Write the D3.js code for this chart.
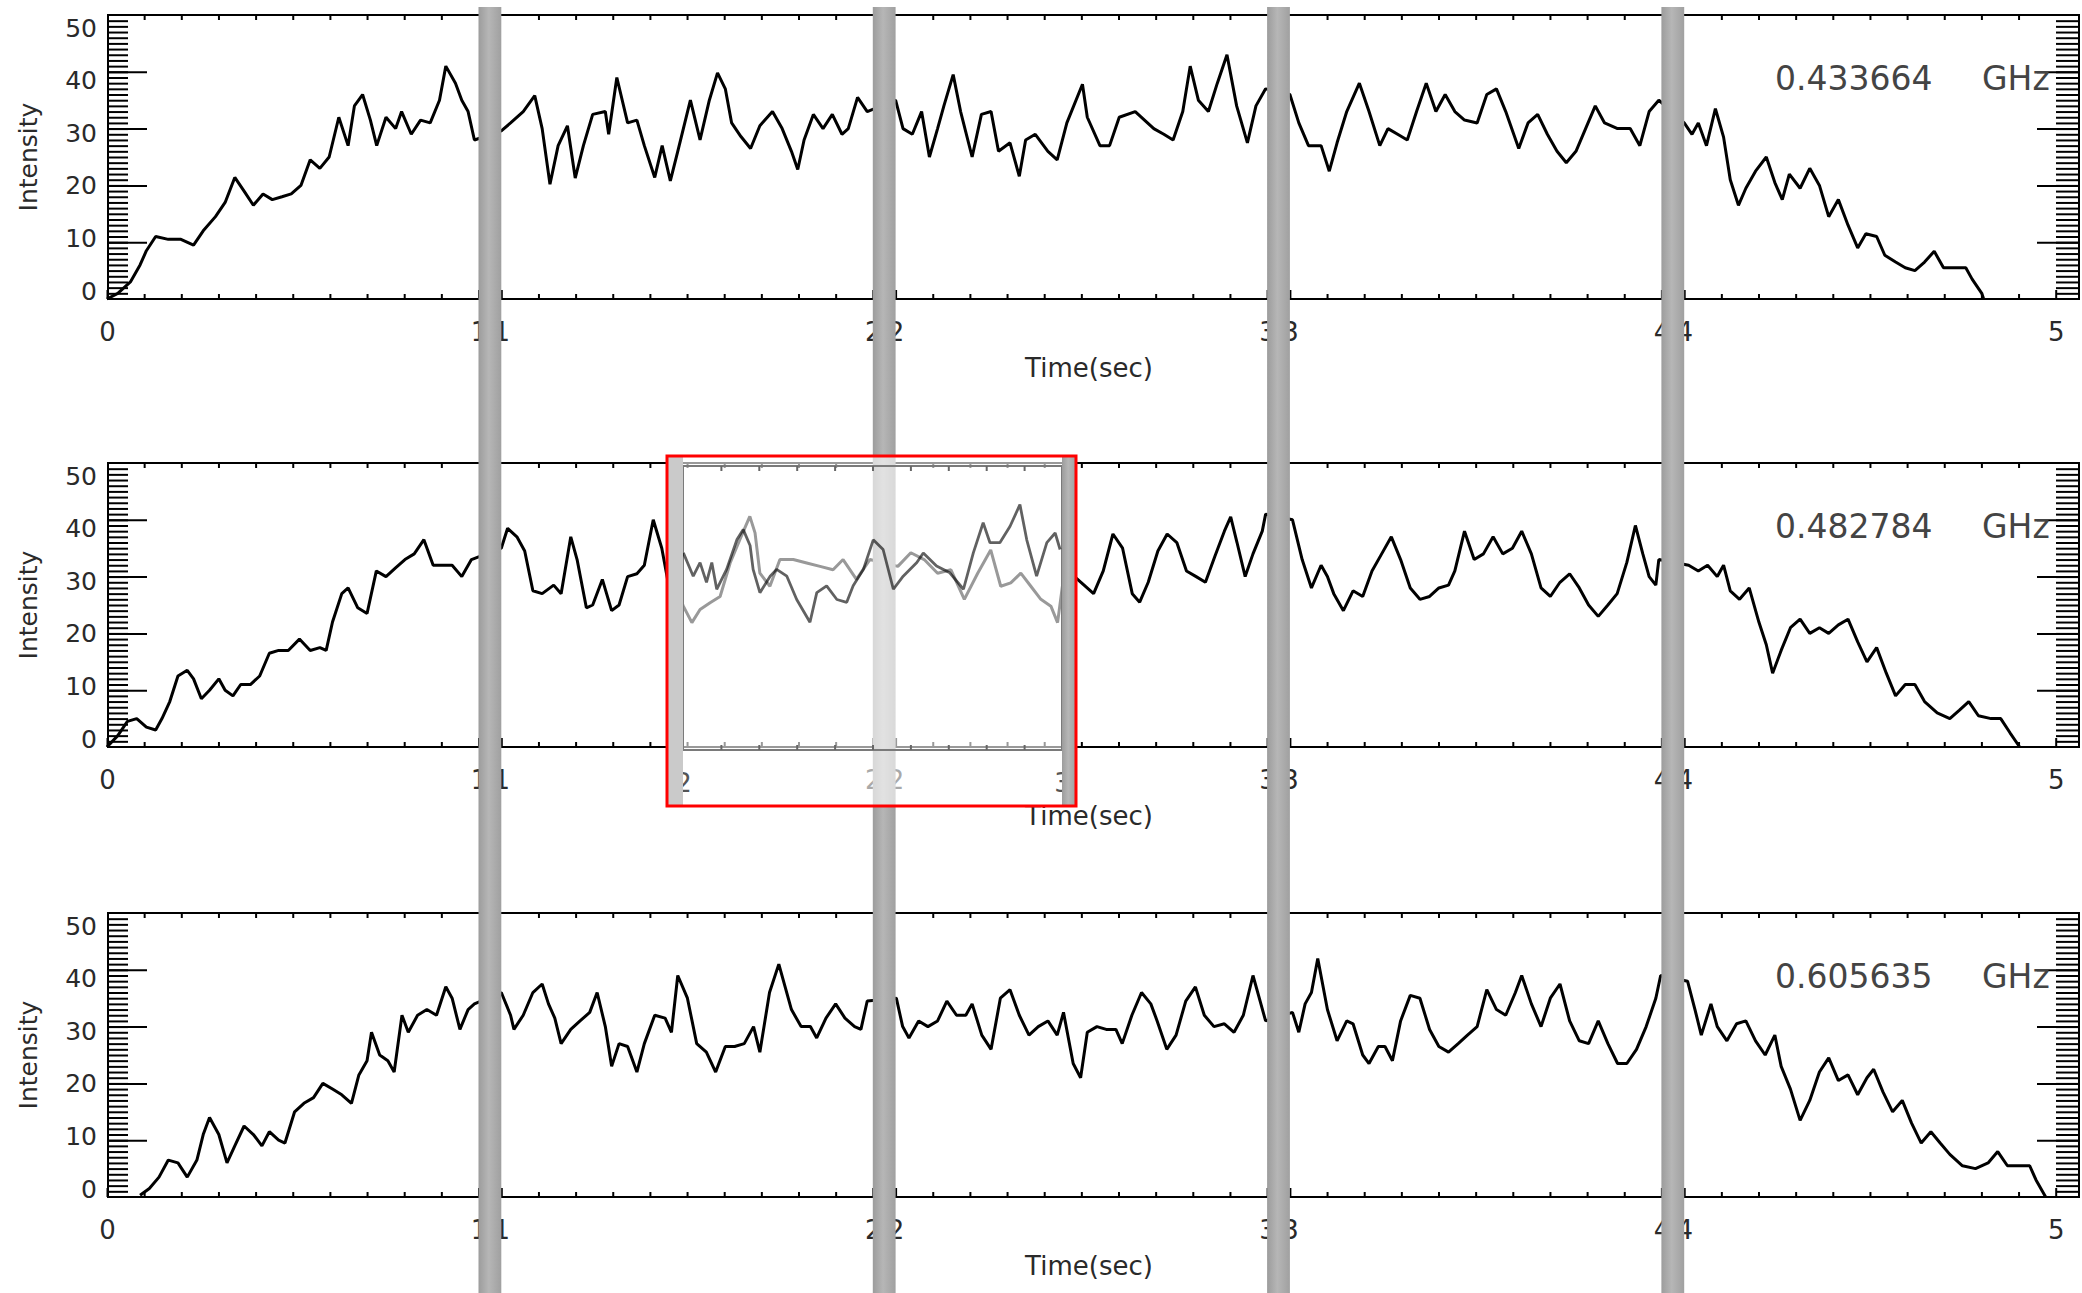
<!DOCTYPE html>
<html>
<head>
<meta charset="utf-8">
<script src="https://d3js.org/d3.v7.min.js"></script>
<style>
body { margin: 0; background: #fff; }
svg text { font-family: "DejaVu Sans", sans-serif; }
</style>
</head>
<body>
<div id="chart"></div>
<script>
// light curves, [time (s), intensity]
const ghz433 = [[0,0],[0.029,1],[0.063,3],[0.089,6],[0.106,8.5],[0.131,11],[0.165,10.5],[0.199,10.5],[0.233,9.5],[0.259,12],
 [0.292,14.5],[0.318,17],[0.344,21.4],[0.369,19],[0.394,16.5],[0.420,18.5],[0.445,17.5],[0.471,18],[0.496,18.5],[0.522,20],
 [0.547,24.5],[0.573,23],[0.598,25],[0.624,32],[0.649,27],[0.666,34],[0.688,36],[0.709,31.5],[0.726,27],[0.751,32],
 [0.777,30],[0.793,33],[0.819,29],[0.844,31.5],[0.870,31],[0.895,35],[0.912,41],[0.938,38],[0.955,35],[0.972,33],[0.989,28],
 [1.000,29.6],[1.025,31],[1.059,33],[1.090,35.8],[1.110,30],[1.131,20.2],[1.153,27],[1.178,30.5],[1.199,21.3],[1.221,27],
 [1.246,32.5],[1.280,33],[1.289,29],[1.311,39],[1.340,31],[1.365,31.5],[1.385,27],[1.413,21.4],[1.433,27],[1.455,20.8],
 [1.475,26],[1.509,35],[1.535,28],[1.560,35],[1.582,39.8],[1.603,37],[1.620,31],[1.645,28.6],[1.671,26.5],[1.696,30.5],
 [1.730,33],[1.756,30],[1.781,26],[1.798,22.8],[1.815,28],[1.840,32.5],[1.866,30],[1.891,32.5],[1.917,29],[1.934,30],[1.959,35.5],[1.985,33],
 [2.000,35],[2.020,30],[2.045,29],[2.070,33],[2.091,25],[2.113,30],[2.130,34],[2.155,39.5],[2.175,33],[2.206,25],
 [2.231,32.5],[2.257,33],[2.277,26],[2.308,27.5],[2.333,21.6],[2.350,28],[2.376,29],[2.410,26],[2.435,24.5],[2.461,31],
 [2.503,37.8],[2.516,32],[2.550,27],[2.576,27],[2.602,32],[2.645,33],[2.670,31.5],[2.695,30],[2.722,29],[2.747,28],
 [2.773,33],[2.793,41],[2.815,35],[2.842,33],[2.866,38],[2.892,43],[2.918,34],[2.947,27.5],[2.970,34],[2.996,37],
 [3.000,36],[3.024,31],[3.050,27],[3.084,27],[3.106,22.5],[3.127,27.5],[3.153,33],[3.187,38],[3.213,33],[3.242,27],
 [3.264,30],[3.290,29],[3.316,28],[3.341,33],[3.367,38],[3.393,33],[3.418,36],[3.444,33],[3.470,31.5],[3.504,31],
 [3.530,36],[3.556,37],[3.581,33],[3.616,26.5],[3.641,31],[3.667,32.5],[3.693,29],[3.719,26],[3.744,24],[3.770,26],
 [3.796,30],[3.822,34],[3.847,31],[3.882,30],[3.916,30],[3.942,27],[3.967,33],[3.993,35],
 [4.000,31],[4.021,29],[4.038,31],[4.060,27],[4.084,33.5],[4.106,28.5],[4.124,21],[4.146,16.5],[4.166,19.5],[4.192,22.5],
 [4.221,25],[4.244,20.5],[4.264,17.5],[4.283,22],[4.312,19.5],[4.338,23],[4.364,20],[4.389,14.5],[4.415,17.5],[4.441,13],
 [4.467,9],[4.489,11.5],[4.518,11],[4.540,7.7],[4.569,6.5],[4.595,5.5],[4.621,5],[4.647,6.5],[4.673,8.4],[4.698,5.5],
 [4.724,5.5],[4.758,5.5],[4.775,3.5],[4.801,1],[4.806,0]];

const ghz482 = [[0,0],[0.029,2],[0.055,4.5],[0.080,5],[0.106,3.5],[0.131,3],[0.148,5],[0.169,8],[0.191,12.5],[0.216,13.5],
 [0.233,12],[0.254,8.5],[0.276,10],[0.301,12],[0.318,10],[0.339,9],[0.360,11],[0.386,11],[0.411,12.5],[0.437,16.5],
 [0.462,17],[0.488,17],[0.518,19],[0.547,17],[0.573,17.5],[0.590,17],[0.607,22],[0.632,27],[0.649,28],[0.675,24.5],
 [0.700,23.5],[0.725,31],[0.751,30],[0.776,31.5],[0.802,33],[0.827,34],[0.853,36.5],[0.878,32],[0.904,32],[0.929,32],[0.955,30],[0.981,33],
 [1.000,35],[1.017,38.5],[1.042,37],[1.063,34.5],[1.085,27.5],[1.110,27],[1.141,28.5],[1.161,27],[1.187,37],[1.204,33],
 [1.229,24.5],[1.246,25],[1.272,29.5],[1.297,24],[1.317,25],[1.340,30],[1.365,30.5],[1.385,32],[1.409,40],[1.432,35],
 [1.449,29],[1.459,29.5],[1.490,24.8],[1.513,21.9],[1.535,24.2],[1.562,25.4],[1.589,26.5],[1.616,32.4],[1.642,36.5],[1.669,40.6],
 [1.683,37.7],[1.696,30.6],[1.723,28.3],[1.750,33],[1.786,33],[1.822,32.4],[1.858,31.8],[1.893,31.2],[1.920,33],[1.956,29.5],[1.992,33],
 [2.006,31.8],[2.041,34.2],[2.077,33],[2.113,30.6],[2.149,31.2],[2.185,26],[2.221,30.6],[2.256,34.7],[2.283,28.3],[2.310,28.9],
 [2.337,30.6],[2.364,28.3],[2.391,26],[2.418,24.8],[2.436,21.9],[2.449,28.3],[2.471,30.6],[2.499,29],[2.533,27],[2.559,31],
 [2.585,37.5],[2.611,35],[2.637,27],[2.657,25.5],[2.680,29],[2.706,34.5],[2.731,37.5],[2.757,36],[2.783,31],[2.809,30],
 [2.834,29],[2.859,33.5],[2.885,38],[2.902,40.5],[2.919,36],[2.941,30],[2.962,34],[2.987,38],[2.996,41],
 [3.007,40],[3.033,33],[3.058,28],[3.084,32],[3.101,30],[3.118,27],[3.144,24],[3.170,27.5],[3.196,26.5],[3.221,31],
 [3.247,34],[3.273,37],[3.298,33],[3.324,28],[3.350,26],[3.376,26.5],[3.401,28],[3.427,28.5],[3.444,31],[3.470,38],
 [3.496,33],[3.521,34],[3.547,37],[3.573,34],[3.599,35],[3.624,38],[3.650,34],[3.676,28],[3.701,26.5],[3.727,29],
 [3.753,30.5],[3.779,28],[3.804,25],[3.830,23],[3.856,25],[3.881,27],[3.907,32.5],[3.930,39],[3.950,34],[3.967,30],[3.985,28.5],[3.993,33],
 [4.012,32],[4.038,31],[4.063,32],[4.089,30],[4.106,32],[4.124,27.5],[4.149,26],[4.175,28],[4.201,22],[4.221,18],
 [4.238,13],[4.261,17],[4.286,21],[4.312,22.5],[4.338,20],[4.364,21],[4.389,20],[4.415,21.5],[4.441,22.5],[4.467,18.5],
 [4.492,15],[4.518,17.5],[4.544,13],[4.569,9],[4.595,11],[4.621,11],[4.647,8],[4.681,6],[4.715,5],[4.741,6.5],
 [4.766,8],[4.792,5.5],[4.826,5],[4.852,5],[4.877,2.5],[4.903,0]];

const ghz605 = [[0.089,0.3],[0.114,1.5],[0.140,3.5],[0.165,6.5],[0.191,6],[0.216,3.5],[0.242,6.5],[0.259,11],[0.276,14],[0.301,11],
 [0.323,6],[0.344,9],[0.369,12.5],[0.394,11],[0.417,9],[0.437,11.5],[0.462,10],[0.479,9.5],[0.505,15],[0.530,16.5],
 [0.556,17.5],[0.581,20],[0.607,19],[0.632,18],[0.658,16.5],[0.678,21.5],[0.700,24],[0.712,29],[0.734,25],[0.756,24],
 [0.773,22],[0.794,32],[0.811,29],[0.836,32],[0.861,33],[0.887,32],[0.912,37],[0.929,35],[0.950,29.5],[0.972,33],[0.989,34],
 [1.000,36],[1.025,32],[1.034,29.5],[1.059,32],[1.085,36],[1.110,37.5],[1.127,34],[1.144,31.5],[1.161,27],[1.187,29.5],
 [1.212,31],[1.238,32.5],[1.258,36],[1.280,30],[1.297,23],[1.317,27],[1.340,26.5],[1.365,22],[1.385,27],[1.413,32],
 [1.441,31.5],[1.458,29],[1.475,39],[1.501,35],[1.526,27],[1.552,25.5],[1.577,22],[1.603,26.5],[1.628,26.5],[1.654,27],
 [1.679,30],[1.696,25.5],[1.722,36],[1.747,41],[1.764,37],[1.781,33],[1.807,30],[1.832,30],[1.849,28],[1.874,31.5],
 [1.900,34],[1.925,31.5],[1.951,30],[1.968,29.5],[1.985,34.5],
 [2.002,35],[2.019,30],[2.036,28],[2.062,31],[2.087,30],[2.113,31],[2.138,34.5],[2.164,32],[2.189,32],[2.206,34],
 [2.232,28.5],[2.257,26],[2.282,35],[2.308,36.5],[2.333,32],[2.359,28.5],[2.384,30],[2.410,31],[2.435,28.5],[2.452,32.5],
 [2.478,23.5],[2.498,21],[2.516,29],[2.542,30],[2.567,29.5],[2.593,29.5],[2.610,27],[2.636,32],[2.662,36],[2.687,34],
 [2.704,31],[2.730,26],[2.755,28.5],[2.781,34.5],[2.807,37],[2.831,32],[2.857,30],[2.885,30.5],[2.911,29],[2.936,32],
 [2.962,39],[2.979,35],[2.996,31],
 [3.007,32.5],[3.024,29],[3.041,34],[3.058,36],[3.075,42],[3.101,33],[3.127,27.5],[3.153,31],[3.170,30.5],[3.196,25],
 [3.213,23.5],[3.238,26.5],[3.256,26.5],[3.276,24],[3.298,31],[3.324,35.5],[3.350,35],[3.376,29.5],[3.401,26.5],[3.427,25.5],
 [3.453,27],[3.478,28.5],[3.504,30],[3.530,36.5],[3.556,33],[3.581,32],[3.607,36],[3.624,39],[3.650,34],[3.676,30],
 [3.701,35],[3.727,37.5],[3.753,31],[3.779,27.5],[3.804,27],[3.830,31],[3.856,27],[3.882,23.5],[3.907,23.5],[3.933,26],
 [3.959,30],[3.985,35],[3.998,39],
 [4.009,38],[4.029,33],[4.046,28.5],[4.072,34],[4.089,30],[4.115,27.5],[4.141,30.5],[4.166,31],[4.192,27.5],[4.218,25],
 [4.244,28.5],[4.261,23],[4.286,19],[4.312,13.5],[4.338,17],[4.364,22],[4.389,24.5],[4.415,20.5],[4.441,21.5],[4.467,18],
 [4.492,21],[4.510,22.5],[4.535,18.5],[4.561,15],[4.587,17],[4.612,13],[4.638,9.5],[4.664,11.5],[4.689,9.5],[4.715,7.5],
 [4.749,5.5],[4.784,5],[4.818,6],[4.844,8],[4.870,5.5],[4.904,5.5],[4.930,5.5],[4.947,3],[4.973,0]];

// second curve shown in the zoom box (2 - 3 s)
const insetSeries = [[2.001,34.7],[2.027,30.6],[2.045,33],[2.062,29.5],[2.076,33],[2.089,28.3],[2.115,31.8],[2.142,37],[2.159,38.8],[2.177,36],
 [2.185,31.8],[2.203,27.7],[2.230,30.6],[2.247,31.8],[2.274,30.6],[2.300,26.5],[2.335,22.5],[2.353,27.7],[2.379,28.9],[2.406,26.5],
 [2.432,26],[2.449,28.9],[2.476,31.8],[2.502,37],[2.528,35.3],[2.555,28.3],[2.581,30.6],[2.617,33],[2.634,34.7],[2.669,32.4],
 [2.704,31.2],[2.740,28.3],[2.766,34.7],[2.792,40],[2.810,36.5],[2.836,36.5],[2.863,39.4],[2.889,43.2],[2.907,37],[2.933,30.6],
 [2.960,36.5],[2.982,38.2],[2.995,35.3]];

const yTicks = [0, 10, 20, 30, 40, 50];
const freqLabels = ["0.433664", "0.482784", "0.605635"];
const series = [ghz433, ghz482, ghz605];

// layout
const W = 2082, H = 1293;
const left = 108, right = 2079;
const panelTops = [15, 463, 913], panelH = 284;
const tileW = 371.5;

const svg = d3.select("#chart").append("svg").attr("width", W).attr("height", H);

// the time axis is made of 5 one-second tiles, separated by gaps
const tileStart = d3.scaleLinear().domain([0, 5]).range([107, 107 + 5 * 394.3]);
const tiles = d3.range(5).map(k => d3.scaleLinear().domain([k, k + 1]).range([tileStart(k), tileStart(k) + tileW]));
function xOf(t) { return tiles[Math.min(4, Math.floor(t))](t); }

const defs = svg.append("defs");
const grad = defs.append("linearGradient").attr("id", "barGrad").attr("x1", 0).attr("x2", 1).attr("y1", 0).attr("y2", 0);
grad.append("stop").attr("offset", 0).attr("stop-color", "#9c9c9c");
grad.append("stop").attr("offset", 0.45).attr("stop-color", "#b6b6b6");
grad.append("stop").attr("offset", 1).attr("stop-color", "#a0a0a0");

function thick(sel, w) {
  sel.select(".domain").remove();
  sel.selectAll("line").attr("stroke-width", w);
  return sel;
}

panelTops.forEach((top, i) => {
  const bottom = top + panelH;
  const y = d3.scaleLinear().domain([0, 50]).range([bottom, top]);
  // tick labels sit a little inside the end ticks, as in the original
  const yLab = d3.scaleLinear().domain([0, 50]).range([bottom - 8, top + 13]);
  const g = svg.append("g");

  // curve
  g.append("path").datum(series[i])
    .attr("fill", "none").attr("stroke", "#000").attr("stroke-width", 3)
    .attr("stroke-linejoin", "bevel")
    .attr("d", d3.line().x(d => xOf(d[0])).y(d => y(d[1])));

  // frame
  g.append("rect").attr("x", left).attr("y", top).attr("width", right - left).attr("height", panelH)
    .attr("fill", "none").attr("stroke", "#000").attr("stroke-width", 2);

  // y ticks, both sides
  const minor = d3.range(1, 50), major = [10, 20, 30, 40];
  g.append("g").attr("transform", `translate(${left},0)`)
    .call(d3.axisRight(y).tickValues(minor).tickSize(20).tickFormat("")).call(thick, 2);
  g.append("g").attr("transform", `translate(${left},0)`)
    .call(d3.axisRight(y).tickValues(major).tickSize(39).tickFormat("")).call(thick, 2);
  g.append("g").attr("transform", `translate(${right},0)`)
    .call(d3.axisLeft(y).tickValues(minor).tickSize(23).tickFormat("")).call(thick, 2);
  g.append("g").attr("transform", `translate(${right},0)`)
    .call(d3.axisLeft(y).tickValues(major).tickSize(42).tickFormat("")).call(thick, 2);
  const yl = g.append("g").attr("transform", `translate(${left},0)`)
    .call(d3.axisLeft(yLab).tickValues(yTicks).tickSize(0).tickPadding(11).tickFormat(d3.format("d")));
  yl.select(".domain").remove();
  yl.selectAll("text").attr("font-size", 25).attr("fill", "#2a2a2a").attr("font-family", "DejaVu Sans");

  // x ticks per tile
  tiles.forEach((xs, k) => {
    const small = d3.range(1, 10).map(j => k + j / 10);
    g.append("g").attr("transform", `translate(0,${bottom})`)
      .call(d3.axisTop(xs).tickValues(small).tickSize(5).tickFormat("")).call(thick, 2);
    g.append("g").attr("transform", `translate(0,${top})`)
      .call(d3.axisBottom(xs).tickValues(small).tickSize(5).tickFormat("")).call(thick, 2);
    g.append("g").attr("transform", `translate(0,${bottom})`)
      .call(d3.axisTop(xs).tickValues([k, k + 1]).tickSize(9).tickFormat("")).call(thick, 2);
    const xl = g.append("g").attr("transform", `translate(0,${bottom})`)
      .call(d3.axisBottom(xs).tickValues([k, k + 1]).tickSize(0).tickPadding(24).tickFormat(d3.format("d")));
    xl.select(".domain").remove();
    xl.selectAll("text").attr("font-size", 26).attr("fill", "#2a2a2a").attr("font-family", "DejaVu Sans");
  });

  g.append("text").attr("x", 1089).attr("y", bottom + 78).attr("text-anchor", "middle")
    .attr("font-size", 26).attr("fill", "#2a2a2a").text("Time(sec)");
  g.append("text").attr("transform", `translate(37,${(top + bottom) / 2}) rotate(-90)`)
    .attr("text-anchor", "middle").attr("font-size", 25).attr("fill", "#2a2a2a").text("Intensity");
  g.append("text").attr("x", 1775).attr("y", top + 75).attr("font-size", 33).attr("fill", "#444").text(freqLabels[i]);
  g.append("text").attr("x", 1982).attr("y", top + 75).attr("font-size", 33).attr("fill", "#444").text("GHz");
});

// gray bars hiding the seams between tiles
svg.append("g").selectAll("rect").data([1, 2, 3, 4]).join("rect")
  .attr("x", k => tiles[k - 1](k)).attr("y", 7)
  .attr("width", k => tileStart(k) - tiles[k - 1](k)).attr("height", H - 7)
  .attr("fill", "url(#barGrad)");

// zoom box over the middle panel
const box = { x0: 667, x1: 1076, y0: 456, y1: 806 };
const insetX = d3.scaleLinear().domain([2, 3]).range([683, 1062]);
const insetY = d3.scaleLinear().domain([0, 50]).range([750, 466]);
const ins = svg.append("g");
ins.append("rect").attr("x", box.x0).attr("y", box.y0).attr("width", box.x1 - box.x0).attr("height", box.y1 - box.y0)
  .attr("fill", "#fff").attr("fill-opacity", 0.6);
ins.append("rect").attr("x", insetX(2)).attr("y", insetY(50)).attr("width", insetX(3) - insetX(2)).attr("height", insetY(0) - insetY(50))
  .attr("fill", "none").attr("stroke", "#7a7a7a").attr("stroke-width", 2);
const smallIn = d3.range(1, 10).map(j => 2 + j / 10);
ins.append("g").attr("transform", `translate(0,${insetY(0)})`)
  .call(d3.axisTop(insetX).tickValues(smallIn).tickSize(5).tickFormat("")).call(thick, 2)
  .attr("color", "#666");
ins.append("g").attr("transform", `translate(0,${insetY(50)})`)
  .call(d3.axisBottom(insetX).tickValues(smallIn).tickSize(5).tickFormat("")).call(thick, 2)
  .attr("color", "#666");
const il = ins.append("g").attr("transform", `translate(0,${insetY(0)})`)
  .call(d3.axisBottom(insetX).tickValues([2, 3]).tickSize(0).tickPadding(24).tickFormat(d3.format("d")));
il.select(".domain").remove();
il.selectAll("text").attr("font-size", 26).attr("fill", "#555").attr("font-family", "DejaVu Sans");
ins.append("path").datum(insetSeries)
  .attr("fill", "none").attr("stroke", "#000").attr("stroke-opacity", 0.62).attr("stroke-width", 2.8)
  .attr("stroke-linejoin", "bevel")
  .attr("d", d3.line().x(d => insetX(d[0])).y(d => insetY(d[1])));
ins.append("rect").attr("x", box.x0).attr("y", box.y0).attr("width", insetX(2) - box.x0).attr("height", box.y1 - box.y0)
  .attr("fill", "#cacaca");
ins.append("rect").attr("x", insetX(3)).attr("y", box.y0).attr("width", box.x1 - insetX(3)).attr("height", box.y1 - box.y0)
  .attr("fill", "url(#barGrad)");
ins.append("rect").attr("x", box.x0).attr("y", box.y0).attr("width", box.x1 - box.x0).attr("height", box.y1 - box.y0)
  .attr("fill", "none").attr("stroke", "#ff0000").attr("stroke-width", 3);
</script>
</body>
</html>
